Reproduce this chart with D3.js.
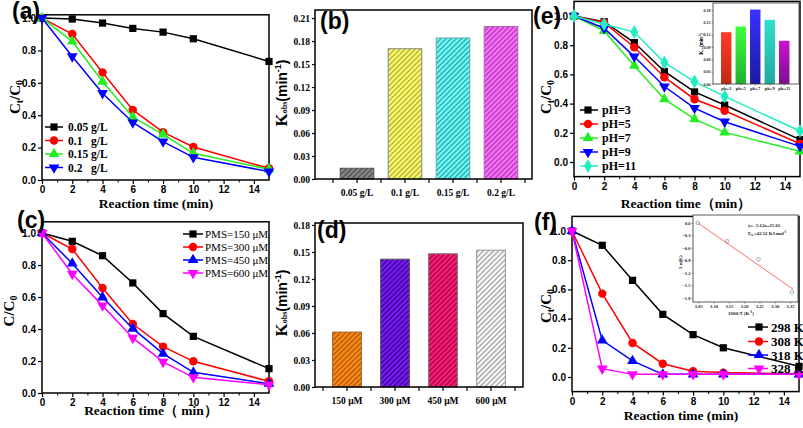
<!DOCTYPE html>
<html><head><meta charset="utf-8">
<script src="https://cdn.jsdelivr.net/npm/d3@7"></script>
<style>body{margin:0;background:#fff} svg{display:block}</style>
</head><body>
<svg id="c" width="803" height="428"></svg>
<script>
// ---------------- DATA ----------------
const timeX = [0, 2, 4, 6, 8, 10, 15];
const timeTicks = [0, 2, 4, 6, 8, 10, 12, 14];
const timeMinor = [1, 3, 5, 7, 9, 11, 13];
const ratioTicks = [0, 0.2, 0.4, 0.6, 0.8, 1.0];

// (a) catalyst dosage
const aLabels = ["0.05 g/L", "0.1   g/L", "0.15 g/L", "0.2   g/L"];
const aS1 = [1.0, 0.994, 0.969, 0.936, 0.913, 0.872, 0.732];
const aS2 = [1.0, 0.901, 0.664, 0.433, 0.295, 0.204, 0.072];
const aS3 = [1.0, 0.856, 0.608, 0.388, 0.282, 0.165, 0.066];
const aS4 = [1.0, 0.763, 0.536, 0.355, 0.237, 0.140, 0.052];

// (b) kobs vs dosage
const bCats = ["0.05 g/L", "0.1 g/L", "0.15 g/L", "0.2 g/L"];
const bVals = [0.014, 0.170, 0.184, 0.199];
const bTicks = [0, 0.03, 0.06, 0.09, 0.12, 0.15, 0.18, 0.21];

// (c) PMS dosage
const cLabels = ["PMS=150 μM", "PMS=300 μM", "PMS=450 μM", "PMS=600 μM"];
const cS1 = [1.0, 0.948, 0.858, 0.688, 0.496, 0.354, 0.152];
const cS2 = [1.0, 0.900, 0.656, 0.431, 0.290, 0.198, 0.073];
const cS3 = [1.0, 0.810, 0.598, 0.402, 0.246, 0.129, 0.058];
const cS4 = [1.0, 0.744, 0.546, 0.344, 0.194, 0.098, 0.052];

// (d) kobs vs PMS
const dCats = ["150 μM", "300 μM", "450 μM", "600 μM"];
const dVals = [0.061, 0.142, 0.148, 0.152];
const dTicks = [0, 0.03, 0.06, 0.09, 0.12, 0.15, 0.18];

// (e) pH
const eLabels = ["pH=3", "pH=5", "pH=7", "pH=9", "pH=11"];
const eS1 = [1.0, 0.961, 0.818, 0.620, 0.480, 0.390, 0.153];
const eS2 = [1.0, 0.955, 0.786, 0.581, 0.430, 0.351, 0.125];
const eS3 = [1.0, 0.898, 0.660, 0.430, 0.294, 0.203, 0.073];
const eS4 = [1.0, 0.916, 0.722, 0.517, 0.369, 0.276, 0.107];
const eS5 = [1.0, 0.943, 0.890, 0.681, 0.551, 0.449, 0.212];
const eInsetCats = ["ph=3", "ph=5", "ph=7", "ph=9", "ph=11"];
const eInsetVals = [0.126, 0.140, 0.181, 0.156, 0.105];
const eInsetTicks = [0, 0.03, 0.06, 0.09, 0.12, 0.15, 0.18];

// (f) temperature
const fLabels = ["298 K", "308 K", "318 K", "328 K"];
const fS1 = [1.0, 0.902, 0.662, 0.429, 0.290, 0.200, 0.073];
const fS2 = [1.0, 0.571, 0.233, 0.091, 0.039, 0.030, 0.023];
const fS3 = [1.0, 0.251, 0.110, 0.018, 0.018, 0.018, 0.018];
const fS4 = [1.0, 0.057, 0.018, 0.018, 0.018, 0.018, 0.018];
const fInsetX = [3.049, 3.145, 3.247, 3.356];
const fInsetY = [0.0, -0.44, -0.875, -1.66];
const fFitX = [3.05, 3.36];
const fFitY = [-0.006, -1.593];
const fInsetXTicks = [3.05, 3.10, 3.15, 3.20, 3.25, 3.30, 3.35];
const fInsetYTicks = [0.0, -0.3, -0.6, -0.9, -1.2, -1.5, -1.8];

// ---------------- HELPERS ----------------
const svg = d3.select("#c");
const defs = svg.append("defs");
const SERIF = "'Liberation Serif','Times New Roman',serif";
const SANS = "'Liberation Sans',Arial,sans-serif";

const SQ = {type: d3.symbolSquare, size: 52};
const CI = {type: d3.symbolCircle, size: 56};
const TU = {type: d3.symbolTriangle, size: 50};
const TD = {type: d3.symbolTriangle, size: 50, rot: true};
const DI = {type: d3.symbolDiamond, size: 56};

function frame(x, y, sw) {
  const [x0, x1] = x.range(), [y0, y1] = y.range();
  svg.append("rect").attr("x", Math.min(x0, x1)).attr("y", Math.min(y0, y1))
    .attr("width", Math.abs(x1 - x0)).attr("height", Math.abs(y1 - y0))
    .attr("fill", "none").attr("stroke", "#000").attr("stroke-width", sw || 1.5);
}
function styleAxis(g, font, size, weight) {
  g.select(".domain").remove();
  g.selectAll("line").attr("stroke", "#000").attr("stroke-width", 1.2);
  g.selectAll("text").attr("font-family", font).attr("font-weight", weight || "bold")
    .attr("font-size", size).attr("fill", "#000");
}
function yAxis(y, xPos, ticks, fmt, font, size, tl, pad) {
  const g = svg.append("g").attr("transform", `translate(${xPos},0)`)
    .call(d3.axisLeft(y).tickValues(ticks).tickFormat(fmt).tickSize(tl || 4).tickPadding(pad || 2).tickSizeOuter(0));
  styleAxis(g, font, size);
  return g;
}
function xAxis(x, yPos, ticks, fmt, font, size, tl, pad) {
  const g = svg.append("g").attr("transform", `translate(0,${yPos})`)
    .call(d3.axisBottom(x).tickValues(ticks).tickFormat(fmt).tickSize(tl || 4).tickPadding(pad || 2).tickSizeOuter(0));
  styleAxis(g, font, size);
  return g;
}
function minorX(x, yPos, ticks) {
  const g = svg.append("g").attr("transform", `translate(0,${yPos})`)
    .call(d3.axisBottom(x).tickValues(ticks).tickFormat("").tickSize(2.5).tickSizeOuter(0));
  g.select(".domain").remove();
  g.selectAll("line").attr("stroke", "#000").attr("stroke-width", 1);
}
function symPath(sym) { return d3.symbol(sym.type, sym.size)(); }
function series(x, y, xs, ys, color, sym) {
  svg.append("path").datum(ys)
    .attr("d", d3.line().x((d, i) => x(xs[i])).y(d => y(d)))
    .attr("fill", "none").attr("stroke", color).attr("stroke-width", 1.5);
  svg.append("g").selectAll("path").data(ys).join("path")
    .attr("transform", (d, i) => `translate(${x(xs[i])},${y(d)})${sym.rot ? " rotate(180)" : ""}`)
    .attr("d", symPath(sym)).attr("fill", color);
}
function legendRow(x0, x1, xm, yy, color, sym, label, tx, font, size, weight) {
  svg.append("line").attr("x1", x0).attr("x2", x1).attr("y1", yy).attr("y2", yy)
    .attr("stroke", color).attr("stroke-width", 1.5);
  svg.append("path").attr("transform", `translate(${xm},${yy})${sym.rot ? " rotate(180)" : ""}`)
    .attr("d", symPath(sym)).attr("fill", color);
  svg.append("text").attr("x", tx).attr("y", yy).attr("dy", "0.35em")
    .attr("font-family", font).attr("font-size", size).attr("font-weight", weight)
    .attr("fill", "#000").style("white-space", "pre").text(label);
}
function panelLabel(txt, x, y) {
  svg.append("text").attr("x", x).attr("y", y).attr("font-family", SANS)
    .attr("font-weight", "bold").attr("font-size", 23).attr("fill", "#000").text(txt);
}
function ratioLabel(cx, cy, sub) {
  const t = svg.append("text").attr("transform", `translate(${cx},${cy}) rotate(-90)`)
    .attr("text-anchor", "middle").attr("font-family", SERIF).attr("font-weight", "bold")
    .attr("font-size", 15).attr("fill", "#000");
  t.append("tspan").text("C");
  if (sub) {
    t.append("tspan").attr("font-size", 10).attr("dy", 3).text(sub);
    t.append("tspan").attr("dy", -3).text("/C");
  } else {
    t.append("tspan").text("/C");
  }
  t.append("tspan").attr("font-size", 10).attr("dy", 3).text("0");
}
function timeLabel(cx, yy, txt) {
  svg.append("text").attr("x", cx).attr("y", yy).attr("text-anchor", "middle")
    .attr("font-family", SERIF).attr("font-weight", "bold").attr("font-size", 13.5)
    .attr("fill", "#000").text(txt);
}
function kobsLabel(cx, cy, scale) {
  const s = scale || 1;
  const t = svg.append("text").attr("transform", `translate(${cx},${cy}) rotate(-90)`)
    .attr("text-anchor", "middle").attr("font-weight", "bold").attr("fill", "#000");
  t.append("tspan").attr("font-family", SERIF).attr("font-size", 17 * s).text("K");
  t.append("tspan").attr("font-family", SERIF).attr("font-size", 8 * s).text("obs");
  t.append("tspan").attr("font-family", SANS).attr("font-size", 14 * s).text("(min");
  t.append("tspan").attr("font-family", SANS).attr("font-size", 9 * s).attr("dy", -6 * s).text("-1");
  t.append("tspan").attr("font-family", SANS).attr("font-size", 14 * s).attr("dy", 6 * s).text(")");
}
function hatch(id, bg, fg) {
  const p = defs.append("pattern").attr("id", id).attr("patternUnits", "userSpaceOnUse")
    .attr("width", 3.6).attr("height", 3.6).attr("patternTransform", "rotate(45)");
  p.append("rect").attr("width", 3.6).attr("height", 3.6).attr("fill", bg);
  p.append("line").attr("x1", 0.8).attr("x2", 0.8).attr("y1", 0).attr("y2", 3.6)
    .attr("stroke", fg).attr("stroke-width", 1.3);
}
function grad(id, top, bottom) {
  const g = defs.append("linearGradient").attr("id", id).attr("x1", 0).attr("x2", 0).attr("y1", 0).attr("y2", 1);
  g.append("stop").attr("offset", "0%").attr("stop-color", top);
  g.append("stop").attr("offset", "100%").attr("stop-color", bottom);
}
const f1 = d3.format(".1f"), f2 = d3.format(".2f");

// ---------------- PANEL (a) ----------------
{
  const x = d3.scaleLinear().domain([0, 15]).range([42, 269]);
  const y = d3.scaleLinear().domain([0, 1.02]).range([180, 14.8]);
  frame(x, y);
  yAxis(y, 42, ratioTicks, f1, SANS, 10);
  xAxis(x, 180, timeTicks, d3.format("d"), SANS, 10);
  minorX(x, 180, timeMinor);
  const cols = ["#000000", "#ff0000", "#22ee22", "#0000ff"];
  const syms = [SQ, CI, TU, TD];
  [aS1, aS2, aS3, aS4].forEach((s, i) => series(x, y, timeX, s, cols[i], syms[i]));
  [127, 140.5, 154, 167.5].forEach((yy, i) =>
    legendRow(45, 63, 54, yy, cols[i], syms[i], aLabels[i], 68, SERIF, 11.5, "bold"));
  ratioLabel(20, 97, "t");
  timeLabel(156, 208, "Reaction time (min)");
  panelLabel("(a)", 12, 19);
}

// ---------------- PANEL (b) ----------------
{
  const x = d3.scaleBand().domain(bCats).range([333, 525]).paddingInner(0.3).paddingOuter(0.15);
  const xf = d3.scaleLinear().domain([0, 1]).range([315, 532]);
  const y = d3.scaleLinear().domain([0, 0.2205]).range([179, 10]);
  const fills = [["hb1", "#8a8a8a", "#4a4a4a"], ["hb2", "#ffff70", "#a8a830"],
                 ["hb3", "#70ffff", "#2a9a9a"], ["hb4", "#ff70ff", "#a838a8"]];
  fills.forEach(f => hatch(f[0], f[1], f[2]));
  const outl = ["#555", "#888", "#6aa", "#a6a"];
  svg.append("g").selectAll("rect").data(bVals).join("rect")
    .attr("x", (d, i) => x(bCats[i])).attr("width", x.bandwidth())
    .attr("y", d => y(d)).attr("height", d => y(0) - y(d))
    .attr("fill", (d, i) => `url(#${fills[i][0]})`).attr("stroke", (d, i) => outl[i]).attr("stroke-width", 1);
  frame(xf, y);
  yAxis(y, 315, bTicks, f2, SERIF, 9.5, 3, 2);
  xAxis(x, 179, bCats, d => d, SERIF, 9.5, 0, 6);
  const step = x.step();
  svg.append("g").selectAll("line").data(bCats.concat(["end"])).join("line")
    .attr("x1", (d, i) => x(bCats[0]) - step * 0.15 + i * step)
    .attr("x2", (d, i) => x(bCats[0]) - step * 0.15 + i * step)
    .attr("y1", 179).attr("y2", 183).attr("stroke", "#000").attr("stroke-width", 1.2);
  kobsLabel(287, 93);
  panelLabel("(b)", 320, 29);
}

// ---------------- PANEL (c) ----------------
{
  const x = d3.scaleLinear().domain([0, 15]).range([42, 269]);
  const y = d3.scaleLinear().domain([0, 1.07]).range([393, 221.8]);
  frame(x, y);
  yAxis(y, 42, ratioTicks, f1, SANS, 10);
  xAxis(x, 393, timeTicks, d3.format("d"), SANS, 10);
  minorX(x, 393, timeMinor);
  const cols = ["#000000", "#ff0000", "#0000ff", "#ff00ff"];
  const syms = [SQ, CI, TU, TD];
  [cS1, cS2, cS3, cS4].forEach((s, i) => series(x, y, timeX, s, cols[i], syms[i]));
  [234, 247, 260, 273].forEach((yy, i) =>
    legendRow(183, 203, 193, yy, cols[i], syms[i], cLabels[i], 205, SERIF, 11, "normal"));
  ratioLabel(14, 311, null);
  timeLabel(151, 415, "Reaction time（ min）");
  panelLabel("(c)", 17, 228);
}

// ---------------- PANEL (d) ----------------
{
  const x = d3.scaleBand().domain(dCats).range([323, 515]).paddingInner(0.4).paddingOuter(0.2);
  const xf = d3.scaleLinear().domain([0, 1]).range([315, 523]);
  const y = d3.scaleLinear().domain([0, 0.1822]).range([387, 223]);
  const fills = [["hd1", "#ff8c1a", "#a85200"], ["hd2", "#7a1cff", "#36007a"],
                 ["hd3", "#ff1f78", "#9a0040"], ["hd4", "#ffffff", "#9a9a9a"]];
  fills.forEach(f => hatch(f[0], f[1], f[2]));
  const outl = ["#a86020", "#555", "#777", "#999"];
  svg.append("g").selectAll("rect").data(dVals).join("rect")
    .attr("x", (d, i) => x(dCats[i])).attr("width", x.bandwidth())
    .attr("y", d => y(d)).attr("height", d => y(0) - y(d))
    .attr("fill", (d, i) => `url(#${fills[i][0]})`).attr("stroke", (d, i) => outl[i]).attr("stroke-width", 1);
  frame(xf, y);
  yAxis(y, 315, dTicks, f2, SERIF, 9.5, 3, 2);
  xAxis(x, 387, dCats, d => d, SERIF, 9.5, 0, 6);
  const step = x.step();
  svg.append("g").selectAll("line").data(dCats.concat(["end"])).join("line")
    .attr("x1", (d, i) => x(dCats[0]) - step * 0.2 + i * step)
    .attr("x2", (d, i) => x(dCats[0]) - step * 0.2 + i * step)
    .attr("y1", 387).attr("y2", 391).attr("stroke", "#000").attr("stroke-width", 1.2);
  kobsLabel(287, 303);
  panelLabel("(d)", 317, 238);
}

// ---------------- PANEL (e) ----------------
{
  const x = d3.scaleLinear().domain([0, 15]).range([574, 800]);
  const y = d3.scaleLinear().domain([-0.1, 1.1]).range([176.6, 1.4]);
  frame(x, y);
  yAxis(y, 574, ratioTicks, f1, SANS, 10);
  xAxis(x, 176.6, timeTicks, d3.format("d"), SANS, 10);
  minorX(x, 176.6, timeMinor);
  const cols = ["#000000", "#ff0000", "#22ee22", "#0000ff", "#22eec4"];
  const syms = [SQ, CI, TU, TD, DI];
  [eS1, eS2, eS3, eS4, eS5].forEach((s, i) => series(x, y, timeX, s, cols[i], syms[i]));
  [110, 124, 138, 152, 166].forEach((yy, i) =>
    legendRow(580, 598, 588, yy, cols[i], syms[i], eLabels[i], 602, SERIF, 12, "bold"));
  ratioLabel(551, 97, "t");
  timeLabel(686, 208, "Reaction time（min）");
  panelLabel("(e)", 533, 23.5);

  // inset bar chart
  const ix = d3.scaleBand().domain(eInsetCats).range([719, 791.5]).paddingInner(0.28).paddingOuter(0.14);
  const iy = d3.scaleLinear().domain([0, 0.197]).range([84, 3]);
  svg.append("rect").attr("x", 713).attr("y", 3).attr("width", 86).attr("height", 81).attr("fill", "#fff");
  const gr = [["ge1", "#ff3a2a", "#c02a10"], ["ge2", "#3cff3c", "#20b030"], ["ge3", "#3a30ff", "#1a1aa0"],
              ["ge4", "#30e0cc", "#20a8a0"], ["ge5", "#cc10cc", "#7a1090"]];
  gr.forEach(g => grad(g[0], g[1], g[2]));
  svg.append("g").selectAll("rect").data(eInsetVals).join("rect")
    .attr("x", (d, i) => ix(eInsetCats[i])).attr("width", ix.bandwidth())
    .attr("y", d => iy(d)).attr("height", d => iy(0) - iy(d))
    .attr("fill", (d, i) => `url(#${gr[i][0]})`);
  svg.append("rect").attr("x", 713).attr("y", 3).attr("width", 86).attr("height", 81)
    .attr("fill", "none").attr("stroke", "#333").attr("stroke-width", 0.8);
  const ga = svg.append("g").attr("transform", "translate(713,0)")
    .call(d3.axisLeft(iy).tickValues(eInsetTicks).tickFormat(f2).tickSize(1.5).tickPadding(1));
  ga.select(".domain").remove();
  ga.selectAll("line").attr("stroke", "#333").attr("stroke-width", 0.5);
  ga.selectAll("text").attr("font-family", SERIF).attr("font-size", 4).attr("font-weight", "bold").attr("fill", "#222");
  const gb = svg.append("g").attr("transform", "translate(0,84)")
    .call(d3.axisBottom(ix).tickSize(1.5).tickPadding(1));
  gb.select(".domain").remove();
  gb.selectAll("line").attr("stroke", "#333").attr("stroke-width", 0.5);
  gb.selectAll("text").attr("font-family", SERIF).attr("font-size", 4.5).attr("font-weight", "bold").attr("fill", "#222");
  kobsLabel(703, 44, 0.32);
}

// ---------------- PANEL (f) ----------------
{
  const x = d3.scaleLinear().domain([0, 15]).range([572, 799]);
  const y = d3.scaleLinear().domain([-0.1, 1.1]).range([391.6, 216.4]);
  frame(x, y);
  yAxis(y, 572, ratioTicks, f1, SANS, 10);
  xAxis(x, 391.6, timeTicks, d3.format("d"), SANS, 10);
  minorX(x, 391.6, timeMinor);
  const cols = ["#000000", "#ff0000", "#0000ff", "#ff00ff"];
  const syms = [SQ, CI, TU, TD];

  // inset
  const ix = d3.scaleLinear().domain([3.033, 3.376]).range([693, 798]);
  const iy = d3.scaleLinear().domain([-1.9, 0.19]).range([302, 215]);
  svg.append("rect").attr("x", 693).attr("y", 215).attr("width", 105).attr("height", 87)
    .attr("fill", "#fff").attr("stroke", "#333").attr("stroke-width", 0.8);
  const ga = svg.append("g").attr("transform", "translate(693,0)")
    .call(d3.axisLeft(iy).tickValues(fInsetYTicks).tickFormat(f1).tickSize(1.5).tickPadding(1));
  ga.select(".domain").remove();
  ga.selectAll("line").attr("stroke", "#333").attr("stroke-width", 0.5);
  ga.selectAll("text").attr("font-family", SERIF).attr("font-size", 4.5).attr("font-weight", "bold").attr("fill", "#222");
  const gb = svg.append("g").attr("transform", "translate(0,302)")
    .call(d3.axisBottom(ix).tickValues(fInsetXTicks).tickFormat(f2).tickSize(1.5).tickPadding(1));
  gb.select(".domain").remove();
  gb.selectAll("line").attr("stroke", "#333").attr("stroke-width", 0.5);
  gb.selectAll("text").attr("font-family", SERIF).attr("font-size", 4.5).attr("font-weight", "bold").attr("fill", "#222");
  svg.append("path").datum(fFitY).attr("d", d3.line().x((d, i) => ix(fFitX[i])).y(d => iy(d)))
    .attr("stroke", "#ff5a5a").attr("stroke-width", 0.9).attr("fill", "none");
  svg.append("g").selectAll("circle").data(fInsetY).join("circle")
    .attr("cx", (d, i) => ix(fInsetX[i])).attr("cy", d => iy(d)).attr("r", 1.8)
    .attr("fill", "none").attr("stroke", "#777").attr("stroke-width", 0.6);
  svg.append("text").attr("x", 748).attr("y", 227).attr("font-family", SERIF)
    .attr("font-size", 4.8).attr("font-weight", "bold").attr("fill", "#222").text("y= -5.12x+15.61");
  const t2 = svg.append("text").attr("x", 748).attr("y", 234.5).attr("font-family", SERIF)
    .attr("font-size", 4.8).attr("font-weight", "bold").attr("fill", "#222");
  t2.append("tspan").text("E");
  t2.append("tspan").attr("font-size", 3.2).attr("dy", 1).text("a");
  t2.append("tspan").attr("dy", -1).text(" =42.52 KJ.mol");
  t2.append("tspan").attr("font-size", 3.2).attr("dy", -2).text("-1");
  const t3 = svg.append("text").attr("x", 741).attr("y", 315).attr("text-anchor", "middle")
    .attr("font-family", SERIF).attr("font-size", 5).attr("font-weight", "bold").attr("fill", "#222");
  t3.append("tspan").text("1000/T (K");
  t3.append("tspan").attr("font-size", 3.4).attr("dy", -2).text("-1");
  t3.append("tspan").attr("dy", 2).text(")");
  svg.append("text").attr("transform", "translate(682,262) rotate(-90)").attr("text-anchor", "middle")
    .attr("font-family", SERIF).attr("font-size", 5).attr("font-weight", "bold").attr("fill", "#222").text("Ln(K)");

  [fS1, fS2, fS3, fS4].forEach((s, i) => series(x, y, timeX, s, cols[i], syms[i]));
  [327, 341.5, 355, 368.5].forEach((yy, i) =>
    legendRow(748, 768, 759, yy, cols[i], syms[i], fLabels[i], 771, SERIF, 13, "bold"));
  ratioLabel(551, 306, "t");
  timeLabel(681, 420, "Reaction time (min)");
  panelLabel("(f)", 534, 230);
}
</script>
</body></html>
